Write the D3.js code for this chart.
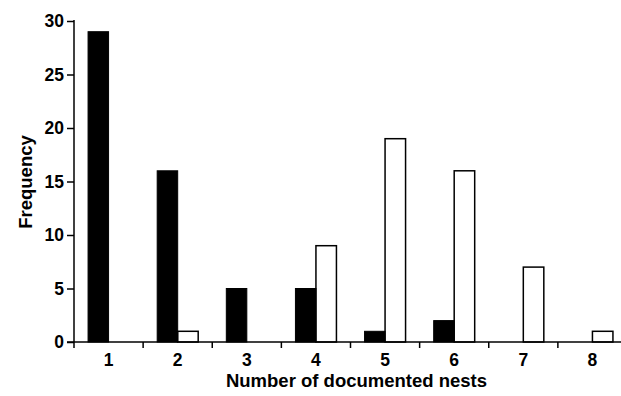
<!DOCTYPE html>
<html><head><meta charset="utf-8">
<script src="https://cdn.jsdelivr.net/npm/d3@7"></script>
<style>body{margin:0;background:#fff}text{font-family:"Liberation Sans",Arial,sans-serif;font-weight:bold}</style>
</head><body>
<svg id="c" width="621" height="396"></svg>
<script>
const categories = ["1","2","3","4","5","6","7","8"];
const seriesBlack = [29,16,5,5,1,2,0,0];
const seriesWhite = [0,1,0,9,19,16,7,1];
const yTicks = [0,5,10,15,20,25,30];

(function(){
const svg = d3.select("#c");
const mL = 74, mR = 627, mT = 21, mB = 342;
const x = d3.scaleBand().domain(categories).range([mL,mR]).paddingInner(0).paddingOuter(0);
const y = d3.scaleLinear().domain([0,30]).range([mB,mT]);
const bw = 20.5;

const data = categories.map((c,i)=>({c, b:seriesBlack[i], w:seriesWhite[i]}));
const g = svg.append("g");
g.selectAll(".wb").data(data.filter(d=>d.w>0)).join("rect")
  .attr("x", d=>x(d.c)+x.bandwidth()/2)
  .attr("y", d=>y(d.w))
  .attr("width", bw).attr("height", d=>y(0)-y(d.w))
  .attr("fill","#fff").attr("stroke","#000").attr("stroke-width",1.5);
g.selectAll(".bb").data(data.filter(d=>d.b>0)).join("rect")
  .attr("x", d=>x(d.c)+x.bandwidth()/2-bw)
  .attr("y", d=>y(d.b))
  .attr("width", bw).attr("height", d=>y(0)-y(d.b))
  .attr("fill","#000").attr("stroke","#000").attr("stroke-width",1);

const yAxis = svg.append("g").attr("transform",`translate(${mL},0)`)
  .call(d3.axisLeft(y).tickValues(yTicks).tickSize(7).tickPadding(3));
const xAxis = svg.append("g").attr("transform",`translate(0,${mB})`)
  .call(d3.axisBottom(x).tickSize(0).tickPadding(12));
const bounds = categories.map(c=>x(c)).concat([mR]);
xAxis.selectAll(".bt").data(bounds).join("line").attr("class","bt")
  .attr("x1",d=>d).attr("x2",d=>d).attr("y1",0).attr("y2",6).attr("stroke","#000").attr("stroke-width",1.5);
[yAxis,xAxis].forEach(a=>{
  a.selectAll(".tick line").attr("stroke-width",1.5);
  a.selectAll("text").attr("font-size",17.5).attr("font-family","Liberation Sans, Arial, sans-serif").attr("font-weight","bold").attr("fill","#000");
});
yAxis.select(".domain").remove();
xAxis.select(".domain").remove();
yAxis.append("line").attr("x1",0).attr("x2",0).attr("y1",mT-1).attr("y2",mB).attr("stroke","#000").attr("stroke-width",1.5);
xAxis.append("line").attr("x1",mL-7).attr("x2",mR).attr("y1",0).attr("y2",0).attr("stroke","#000").attr("stroke-width",1.5);

svg.append("text").attr("x",(mL+mR)/2 + 6).attr("y",387).attr("text-anchor","middle").attr("font-size",18.5).text("Number of documented nests");
svg.append("text").attr("transform","translate(32,182) rotate(-90)").attr("text-anchor","middle").attr("font-size",18.5).text("Frequency");
})();
</script>
</body></html>
